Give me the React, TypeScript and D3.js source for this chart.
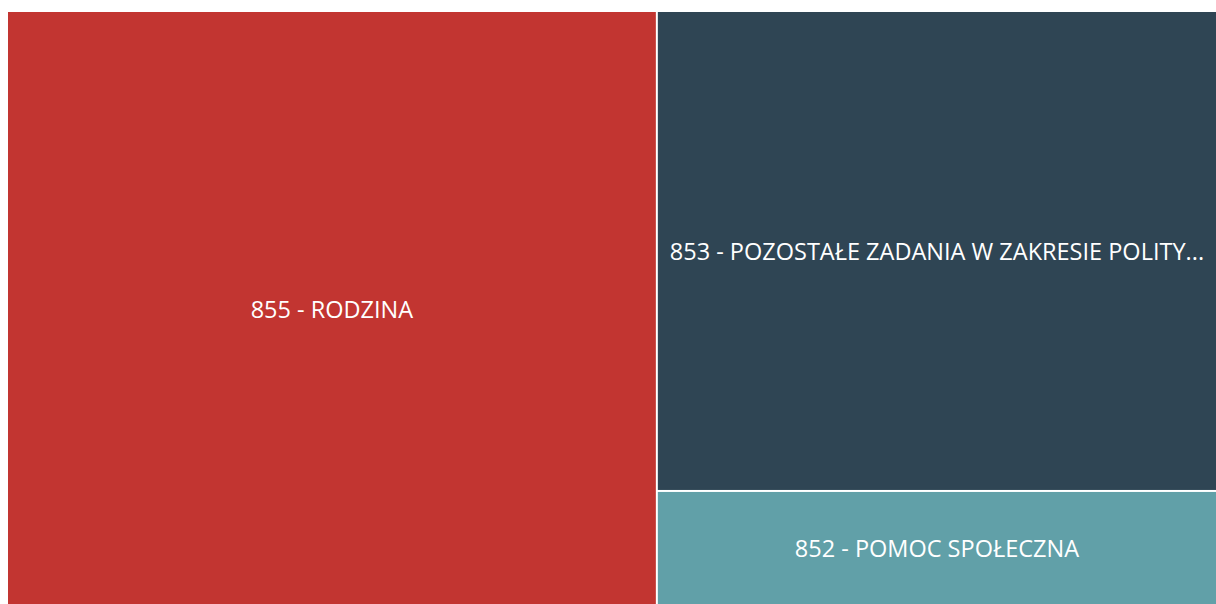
import React, { useEffect, useRef } from "react";
import * as d3 from "d3";

const names = [
  "855 - RODZINA",
  "853 - POZOSTAŁE ZADANIA W ZAKRESIE POLITYKI SPOŁECZNEJ",
  "852 - POMOC SPOŁECZNA",
];
const values = [384, 267, 64];
const colors = ["#c23531", "#2f4554", "#61a0a8"];

const W = 1216;
const H = 604;

export default function App() {
  const ref = useRef<SVGSVGElement | null>(null);
  useEffect(() => {
    const svg = d3.select(ref.current);
    svg.selectAll("*").remove();
    const root = d3
      .hierarchy({ children: names.map((n, i) => ({ name: n, value: values[i], color: colors[i] })) } as any)
      .sum((d: any) => d.value || 0)
      .sort((a, b) => (b.value || 0) - (a.value || 0));
    d3.treemap().tile(d3.treemapSquarify).size([1208, 593]).paddingInner(2)(root as any);
    const g = svg.append("g").attr("transform", "translate(8,12)");
    const leaves = root.leaves() as any[];
    const cell = g.selectAll("g.cell").data(leaves).enter().append("g").attr("class", "cell");
    cell
      .append("rect")
      .attr("x", (d) => d.x0)
      .attr("y", (d) => d.y0)
      .attr("width", (d) => d.x1 - d.x0)
      .attr("height", (d) => d.y1 - d.y0)
      .attr("fill", (d) => d.data.color);
    cell.each(function (d: any) {
      const cx = (d.x0 + d.x1) / 2;
      const cy = (d.y0 + d.y1) / 2;
      const maxW = d.x1 - d.x0 - 20;
      const t = d3
        .select(this)
        .append("text")
        .attr("x", cx)
        .attr("y", cy)
        .attr("text-anchor", "middle")
        .attr("dominant-baseline", "central")
        .attr("fill", "#fff")
        .style("font-family", "'Open Sans', sans-serif")
        .style("font-size", "23.5px")
        .text(d.data.name);
      const node = t.node() as SVGTextElement;
      let s = d.data.name as string;
      if (node.getComputedTextLength() > maxW) {
        while (s.length > 0) {
          s = s.slice(0, -1);
          t.text(s + "...");
          if (node.getComputedTextLength() <= maxW) break;
        }
      }
    });
  }, []);
  return (
    <svg
      ref={ref}
      width={W}
      height={H}
      style={{ position: "absolute", left: 0, top: 0, display: "block", background: "#fff" }}
    />
  );
}
